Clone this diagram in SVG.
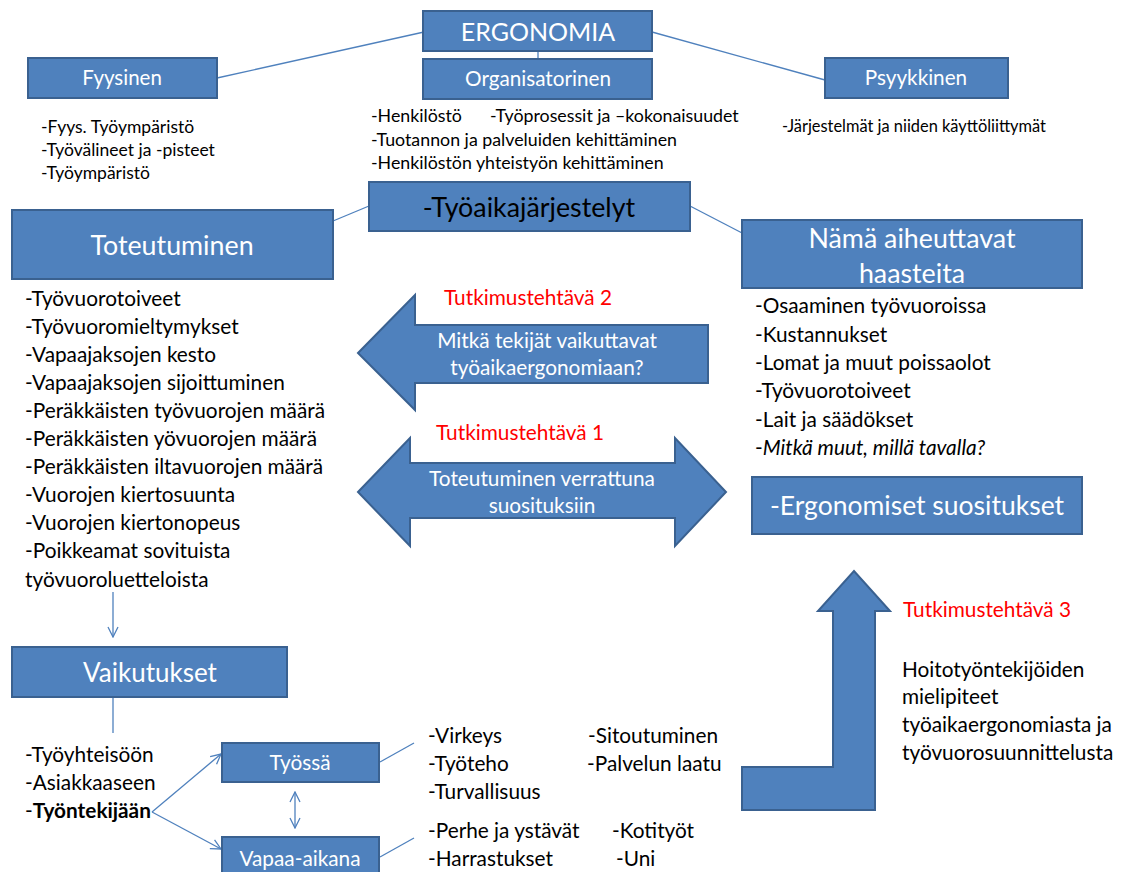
<svg xmlns="http://www.w3.org/2000/svg" width="1130" height="872" viewBox="0 0 1130 872">
<defs>
<marker id="open" viewBox="0 0 12 12" refX="11" refY="6" markerWidth="12" markerHeight="12" markerUnits="userSpaceOnUse" orient="auto-start-reverse">
<path d="M1,1 L11,6 L1,11" fill="none" stroke="#4F81BD" stroke-width="1.3"/>
</marker>
</defs>
<style>
.box{fill:#4F81BD;stroke:#3A6190;stroke-width:2}
.big{fill:#4F81BD;stroke:#3A6190;stroke-width:2;stroke-linejoin:miter}
.ln{stroke:#4F81BD;stroke-width:1.3;fill:none}
text{font-family:Lato,"Open Sans",sans-serif}
.w{fill:#fff;text-anchor:middle}
.k{fill:#000}
.r{fill:#ff0000}
</style>
<rect width="1130" height="872" fill="#fff"/>
<g id="connectors">
<line class="ln" x1="217" y1="78" x2="424" y2="32"/>
<line class="ln" x1="652" y1="32" x2="825" y2="80"/>
<line class="ln" x1="538" y1="51" x2="538" y2="59"/>
<line class="ln" x1="333" y1="221" x2="369" y2="206"/>
<line class="ln" x1="690" y1="206" x2="744" y2="234"/>
<line class="ln" x1="113" y1="592" x2="113" y2="637" marker-end="url(#open)"/>
<line class="ln" x1="113" y1="697" x2="113" y2="733"/>
<line class="ln" x1="152" y1="812" x2="221" y2="754" marker-end="url(#open)"/>
<line class="ln" x1="152" y1="812" x2="221" y2="849" marker-end="url(#open)"/>
<line class="ln" x1="295" y1="792" x2="295" y2="828" marker-start="url(#open)" marker-end="url(#open)"/>
<line class="ln" x1="380" y1="762" x2="414" y2="743"/>
<line class="ln" x1="380" y1="857" x2="414" y2="838"/>
</g>
<g id="ergonomia"><rect class="box" x="423" y="11" width="229" height="40"/><text class="w" x="538" y="41" font-size="25">ERGONOMIA</text></g>
<g id="fyysinen"><rect class="box" x="28" y="58" width="189" height="40"/><text class="w" x="122" y="85" font-size="20.5">Fyysinen</text>
<text class="k" x="41" y="133" font-size="17.5">-Fyys. Työympäristö</text>
<text class="k" x="41" y="156" font-size="17.5">-Työvälineet ja -pisteet</text>
<text class="k" x="41" y="179" font-size="17.5">-Työympäristö</text></g>
<g id="organisatorinen"><rect class="box" x="423" y="59" width="229" height="40"/><text class="w" x="538" y="86" font-size="20.7">Organisatorinen</text>
<text class="k" x="371" y="122" font-size="17.8">-Henkilöstö<tspan x="490">-Työprosessit ja –kokonaisuudet</tspan></text>
<text class="k" x="371" y="146" font-size="17.8">-Tuotannon ja palveluiden kehittäminen</text>
<text class="k" x="371" y="169" font-size="17.8">-Henkilöstön yhteistyön kehittäminen</text></g>
<g id="psyykkinen"><rect class="box" x="825" y="58" width="183" height="40"/><text class="w" x="916" y="85" font-size="20.7">Psyykkinen</text>
<text class="k" x="782" y="132" font-size="16.4">-Järjestelmät ja niiden käyttöliittymät</text></g>
<g id="tyoaika"><rect class="box" x="369" y="182" width="321" height="49"/><text class="k" x="529" y="217" font-size="26.8" text-anchor="middle">-Työaikajärjestelyt</text></g>
<g id="toteutuminen"><rect class="box" x="12" y="210" width="321" height="69"/><text class="w" x="172" y="255" font-size="26.8">Toteutuminen</text>
<g font-size="20.8" class="k">
<text x="25" y="306">-Työvuorotoiveet</text>
<text x="25" y="334">-Työvuoromieltymykset</text>
<text x="25" y="362">-Vapaajaksojen kesto</text>
<text x="25" y="390">-Vapaajaksojen sijoittuminen</text>
<text x="25" y="418">-Peräkkäisten työvuorojen määrä</text>
<text x="25" y="446">-Peräkkäisten yövuorojen määrä</text>
<text x="25" y="474">-Peräkkäisten iltavuorojen määrä</text>
<text x="25" y="502">-Vuorojen kiertosuunta</text>
<text x="25" y="530">-Vuorojen kiertonopeus</text>
<text x="25" y="558">-Poikkeamat sovituista</text>
<text x="25" y="587">työvuoroluetteloista</text>
</g></g>
<g id="haasteita"><rect class="box" x="742" y="220" width="340" height="68"/><text class="w" x="912" y="248" font-size="26.8">Nämä aiheuttavat</text><text class="w" x="912" y="283" font-size="26.8">haasteita</text>
<g font-size="20.8" class="k">
<text x="755" y="313">-Osaaminen työvuoroissa</text>
<text x="755" y="342">-Kustannukset</text>
<text x="755" y="370">-Lomat ja muut poissaolot</text>
<text x="755" y="398">-Työvuorotoiveet</text>
<text x="755" y="427">-Lait ja säädökset</text>
<text x="755" y="455">-<tspan font-style="italic">Mitkä muut, millä tavalla?</tspan></text>
</g></g>
<g id="suositukset"><rect class="box" x="752" y="477" width="330" height="57"/><text class="w" x="917" y="515" font-size="26.5">-Ergonomiset suositukset</text></g>
<g id="tt2"><path class="big" d="M358,353 L415,295 L415,325 L708,325 L708,383 L415,383 L415,410 Z"/>
<text class="r" x="444" y="305" font-size="20.8">Tutkimustehtävä 2</text>
<text class="w" x="547" y="348" font-size="20.8">Mitkä tekijät vaikuttavat</text>
<text class="w" x="547" y="375" font-size="20.8">työaikaergonomiaan?</text></g>
<g id="tt1"><path class="big" d="M358,492 L410,438 L410,463 L675,463 L675,438 L726,492 L675,546 L675,518 L410,518 L410,546 Z"/>
<text class="r" x="436" y="440" font-size="20.8">Tutkimustehtävä 1</text>
<text class="w" x="542" y="486" font-size="20.8">Toteutuminen verrattuna</text>
<text class="w" x="542" y="513" font-size="20.8">suosituksiin</text></g>
<g id="tt3"><path class="big" d="M742,767 L833,767 L833,611 L818,611 L854,571 L890,611 L875,611 L875,810 L742,810 Z"/>
<text class="r" x="903" y="617" font-size="20.8">Tutkimustehtävä 3</text>
<g class="k" font-size="20.8">
<text x="902" y="677">Hoitotyöntekijöiden</text>
<text x="902" y="704">mielipiteet</text>
<text x="902" y="732">työaikaergonomiasta ja</text>
<text x="902" y="760">työvuorosuunnittelusta</text>
</g></g>
<g id="vaikutukset"><rect class="box" x="12" y="647" width="275" height="50"/><text class="w" x="150" y="682" font-size="26">Vaikutukset</text>
<g class="k" font-size="20.8">
<text x="25" y="762">-Työyhteisöön</text>
<text x="25" y="790">-Asiakkaaseen</text>
<text x="25" y="818">-<tspan font-weight="bold">Työntekijään</tspan></text>
</g></g>
<g id="tyossa"><rect class="box" x="222" y="743" width="157" height="39"/><text class="w" x="300" y="770" font-size="20.8">Työssä</text>
<g class="k" font-size="20.8">
<text x="428" y="743">-Virkeys</text>
<text x="428" y="771">-Työteho</text>
<text x="428" y="799">-Turvallisuus</text>
<text x="588" y="743">-Sitoutuminen</text>
<text x="587" y="771">-Palvelun laatu</text>
</g></g>
<g id="vapaa"><rect class="box" x="222" y="837" width="157" height="45"/><text class="w" x="300" y="866" font-size="20.8">Vapaa-aikana</text>
<g class="k" font-size="20.8">
<text x="428" y="838">-Perhe ja ystävät</text>
<text x="428" y="866">-Harrastukset</text>
<text x="612" y="838">-Kotityöt</text>
<text x="616" y="866">-Uni</text>
</g></g>
</svg>
